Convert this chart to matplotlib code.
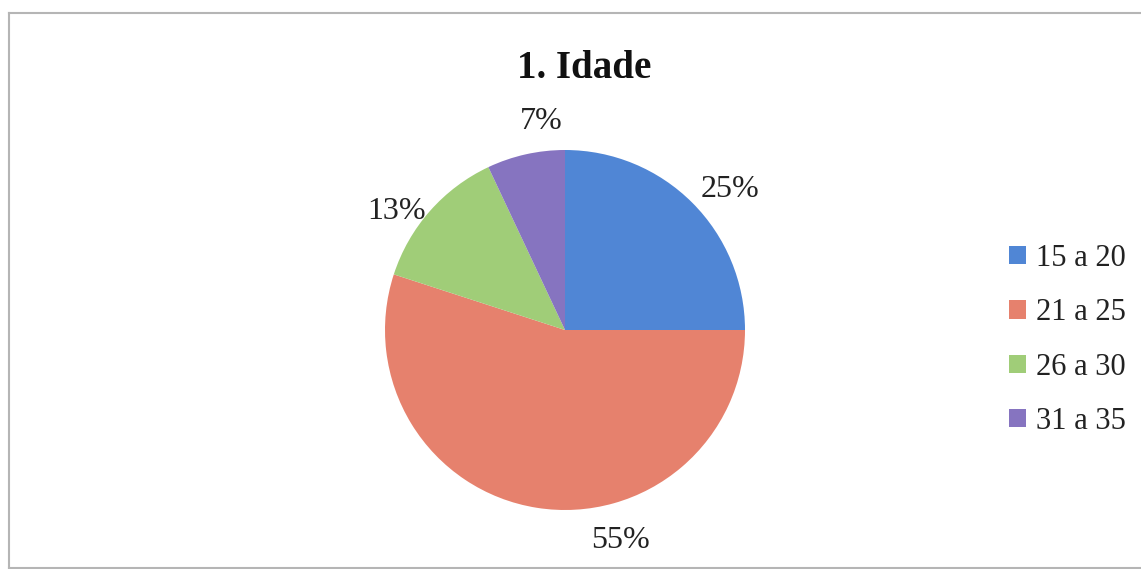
import matplotlib.pyplot as plt
from matplotlib.lines import Line2D

categories = ['15 a 20', '21 a 25', '26 a 30', '31 a 35']
values = [25, 55, 13, 7]
colors = ['#5086d5', '#e6816d', '#a0cd78', '#8674c0']
# posições dos rótulos (coordenadas do eixo, raio = 1), como no Excel
label_pos = [(0.917, 0.778), (0.306, -1.172), (-0.933, 0.656), (-0.133, 1.16)]

plt.rcParams['font.family'] = ['Liberation Serif', 'DejaVu Serif']

fig = plt.figure(figsize=(11.41, 5.69), dpi=100)

# moldura cinza (esquerda, topo, base)
W, H = 1141, 569
x0, y0, y1 = 9 / W, 1 - 13 / H, 1 - 567.5 / H
fig.add_artist(Line2D([x0, x0], [y1, y0], color='#b5b5b5', lw=1.5))
fig.add_artist(Line2D([x0, 1], [y0, y0], color='#b5b5b5', lw=1.5))
fig.add_artist(Line2D([x0, 1], [y1, y1], color='#b5b5b5', lw=1.5))

# pizza: centro (565, 330), raio 180 px
cx, cy, r = 565 / W, 1 - 330 / H, 180
ax = fig.add_axes([cx - r / W, cy - r / H, 2 * r / W, 2 * r / H])
wedges, texts, autotexts = ax.pie(values, colors=colors, startangle=90, counterclock=False,
                                  autopct='%1.0f%%', pctdistance=1.17,
                                  textprops={'fontsize': 23, 'color': '#222222'})
for t, pos in zip(autotexts, label_pos):
    t.set_position(pos)
ax.set_xlim(-1, 1)
ax.set_ylim(-1, 1)
ax.set_aspect('equal')

fig.text(584 / W, 1 - 69 / H, '1. Idade', ha='center', va='center',
         fontsize=28, fontweight='bold', color='#111111')

fig.legend(wedges, categories, loc='center left', bbox_to_anchor=(1009 / W, 1 - 340 / H),
           frameon=False, fontsize=22, handlelength=0.55, handleheight=0.55,
           handletextpad=0.35, labelspacing=0.83, borderpad=0, borderaxespad=0,
           labelcolor='#222222')

fig.savefig('out.png', dpi=100)
